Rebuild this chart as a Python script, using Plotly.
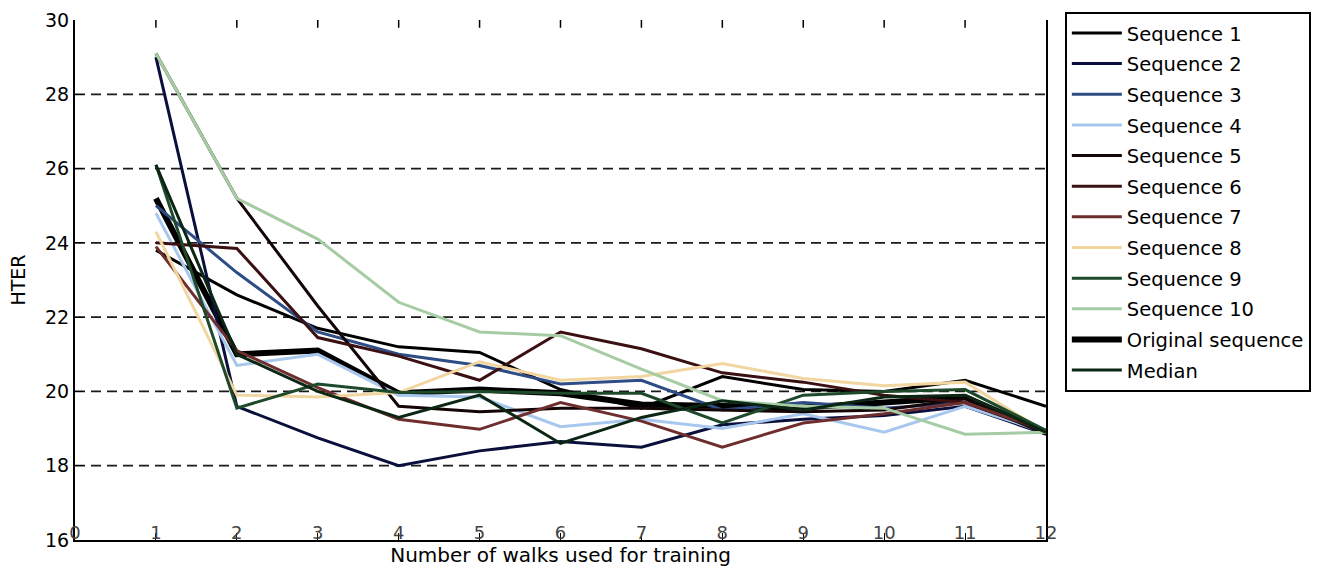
import plotly.graph_objects as go

# Number of walks used for training
walks = [1, 2, 3, 4, 5, 6, 7, 8, 9, 10, 11, 12]

# HTER for each resampled sequence
seq_1 = [23.8, 22.6, 21.7, 21.2, 21.05, 20.05, 19.55, 20.4, 20.05, 20.0, 20.3, 19.6]
seq_2 = [29.0, 19.6, 18.75, 18.0, 18.4, 18.65, 18.5, 19.1, 19.25, 19.35, 19.6, 18.85]
seq_3 = [25.0, 23.2, 21.6, 21.0, 20.7, 20.2, 20.3, 19.5, 19.7, 19.55, 19.7, 18.85]
seq_4 = [24.8, 20.7, 21.0, 19.9, 19.85, 19.05, 19.25, 19.0, 19.4, 18.9, 19.6, 18.9]
seq_5 = [29.1, 25.2, 22.3, 19.6, 19.45, 19.55, 19.55, 19.5, 19.45, 19.5, 19.8, 18.85]
seq_6 = [24.0, 23.85, 21.45, 20.95, 20.3, 21.6, 21.15, 20.5, 20.25, 19.9, 19.7, 18.9]
seq_7 = [23.9, 21.1, 20.1, 19.25, 18.98, 19.7, 19.2, 18.5, 19.15, 19.4, 19.7, 18.95]
seq_8 = [24.3, 19.9, 19.85, 19.97, 20.8, 20.3, 20.4, 20.75, 20.35, 20.15, 20.25, 18.9]
seq_9 = [26.1, 19.55, 20.2, 19.97, 20.0, 19.95, 19.95, 19.15, 19.9, 20.0, 20.05, 18.95]
seq_10 = [29.1, 25.2, 24.1, 22.4, 21.6, 21.5, 20.6, 19.75, 19.6, 19.55, 18.85, 18.9]
original = [25.2, 21.0, 21.1, 19.95, 20.05, 19.95, 19.65, 19.6, 19.57, 19.7, 19.85, 18.9]
median = [26.1, 21.0, 20.0, 19.3, 19.9, 18.6, 19.3, 19.75, 19.5, 19.85, 19.9, 18.9]

seq_names = [f"Sequence {i}" for i in range(1, 11)]
seq_values = [seq_1, seq_2, seq_3, seq_4, seq_5, seq_6, seq_7, seq_8, seq_9, seq_10]
seq_colors = ["#000000", "#0a0f3c", "#2f4d85", "#a7c7ee", "#140606",
              "#3b1012", "#6e2e2e", "#f2d6a2", "#1e4a2b", "#a6cca4"]

x_ticks = list(range(0, 13))
y_ticks = [16, 18, 20, 22, 24, 26, 28, 30]
grid_levels = [18, 20, 22, 24, 26, 28]

FONT = "DejaVu Sans"

fig = go.Figure()

# thick reference curve sits underneath the sequences
fig.add_trace(go.Scatter(
    x=walks, y=original, mode="lines", name="Original sequence",
    line=dict(color="#000000", width=6), legendrank=11, legendgroup="orig",
))
for rank, (name, vals, col) in enumerate(zip(seq_names, seq_values, seq_colors), start=1):
    fig.add_trace(go.Scatter(
        x=walks, y=vals, mode="lines", name=name,
        line=dict(color=col, width=3), legendrank=rank, legendgroup=name,
    ))
fig.add_trace(go.Scatter(
    x=walks, y=median, mode="lines", name="Median",
    line=dict(color="#0b2613", width=3), legendrank=12, legendgroup="median",
))

shapes = []
# dashed horizontal grid
for lvl in grid_levels:
    shapes.append(dict(type="line", xref="paper", x0=0, x1=1, yref="y", y0=lvl, y1=lvl,
                       line=dict(color="#1a1a1a", width=1.8, dash="10px,6px"), layer="below"))
# tick marks along the top edge
for t in x_ticks[1:-1]:
    shapes.append(dict(type="line", xref="x", x0=t, x1=t, yref="paper", y0=1, y1=0.985,
                       line=dict(color="#000000", width=1.5)))

fig.update_layout(
    width=1336, height=572,
    margin=dict(l=75, r=290, t=20, b=32),
    paper_bgcolor="white", plot_bgcolor="white",
    font=dict(family=FONT, color="#000000"),
    shapes=shapes,
    legend=dict(
        x=1.0196, y=1.0154, xanchor="left", yanchor="top",
        bordercolor="#000000", borderwidth=1.8,
        font=dict(family=FONT, size=19.5, color="#000000"),
        itemwidth=50, tracegroupgap=2.3, traceorder="grouped",
        maxheight=420,
    ),
    xaxis=dict(
        range=[0, 12], tickvals=x_ticks, ticktext=[str(t) for t in x_ticks],
        showgrid=False, zeroline=False, automargin=False,
        showline=True, linecolor="#000000", linewidth=2,
        ticks="inside", ticklen=7, tickcolor="#000000",
        ticklabelposition="inside", ticklabeloverflow="allow",
        ticklabelstandoff=-9,
        tickfont=dict(family=FONT, size=18),
        title=dict(text="Number of walks used for training",
                   font=dict(family=FONT, size=20), standoff=6),
    ),
    yaxis=dict(
        range=[16, 30], tickvals=y_ticks, ticktext=[str(t) for t in y_ticks],
        showgrid=False, zeroline=False, automargin=False,
        showline=True, linecolor="#000000", linewidth=2, mirror=True,
        ticks="inside", ticklen=8, tickcolor="#000000",
        tickfont=dict(family=FONT, size=19),
        title=dict(text="HTER", font=dict(family=FONT, size=19), standoff=14),
    ),
)

fig.write_html("out.html")
